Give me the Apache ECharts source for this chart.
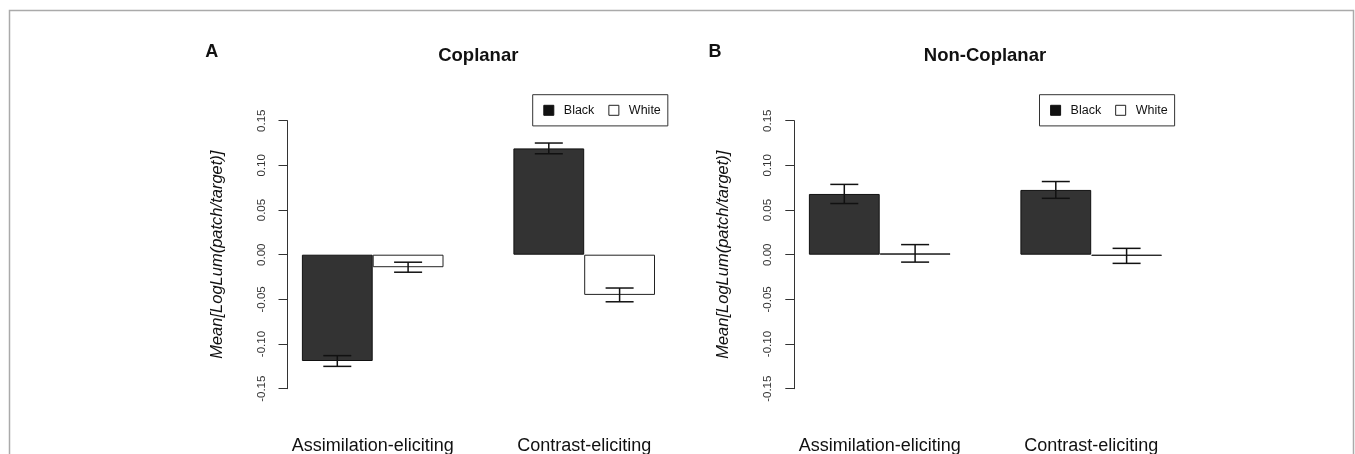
<!DOCTYPE html>
<html>
<head>
<meta charset="utf-8">
<script src="https://cdn.jsdelivr.net/npm/echarts@6/dist/echarts.min.js"></script>
<style>
html,body{margin:0;padding:0;background:#fff;}
#chart{width:1355px;height:454px;}
</style>
</head>
<body>
<div id="chart"></div>
<script>
// ---- data ----
const categories = ['Assimilation-eliciting', 'Contrast-eliciting'];
const seriesNames = ['Black', 'White'];
const panelTitles = ['Coplanar', 'Non-Coplanar'];
const panelLetters = ['A', 'B'];
const yAxisTitle = 'Mean[LogLum(patch/target)]';
const yTicks = [-0.15, -0.10, -0.05, 0.00, 0.05, 0.10, 0.15];

const coplanarBlack = [-0.119, 0.119];
const coplanarBlackErr = [0.006, 0.006];
const coplanarWhite = [-0.014, -0.045];
const coplanarWhiteErr = [0.0056, 0.0077];

const nonCoplanarBlack = [0.068, 0.0725];
const nonCoplanarBlackErr = [0.0107, 0.0094];
const nonCoplanarWhite = [0.0015, -0.0013];
const nonCoplanarWhiteErr = [0.0098, 0.0084];

// ---- layout ----
const BAR_W = 70.8;
const CAP_HALF = 14;
const panels = [
  {gridLeft: 266.95, axisOffset: -20.55, title: 478.3, letter: 211.7, legendLeft: 532.7,
   black: coplanarBlack, blackErr: coplanarBlackErr, white: coplanarWhite, whiteErr: coplanarWhiteErr},
  {gridLeft: 773.95, axisOffset: -20.35, title: 985, letter: 715, legendLeft: 1039.5,
   black: nonCoplanarBlack, blackErr: nonCoplanarBlackErr, white: nonCoplanarWhite, whiteErr: nonCoplanarWhiteErr}
];
const GRID_W = 423;
const GRID_TOP = 120.7;
const GRID_H = 268;
const FONT = 'Liberation Sans, Arial, sans-serif';

const blackStyle = {color: '#333333', borderColor: '#111111', borderWidth: 1};
const whiteStyle = {color: '#ffffff', borderColor: '#222222', borderWidth: 1};

function errorSeries(values, errs, dx, axisIdx, name) {
  return {
    type: 'custom',
    name: name + ' error',
    xAxisIndex: axisIdx, yAxisIndex: axisIdx,
    silent: true, z: 5,
    data: values.map((v, i) => [i, v, errs[i]]),
    renderItem: function (params, api) {
      const i = api.value(0), m = api.value(1), e = api.value(2);
      const top = api.coord([i, m + e]);
      const bot = api.coord([i, m - e]);
      const x = top[0] + dx;
      const st = {stroke: '#111', lineWidth: 1.5};
      return {
        type: 'group',
        children: [
          {type: 'line', shape: {x1: x, y1: top[1], x2: x, y2: bot[1]}, style: st},
          {type: 'line', shape: {x1: x - CAP_HALF, y1: top[1], x2: x + CAP_HALF, y2: top[1]}, style: st},
          {type: 'line', shape: {x1: x - CAP_HALF, y1: bot[1], x2: x + CAP_HALF, y2: bot[1]}, style: st}
        ]
      };
    }
  };
}

const grids = [], xAxes = [], yAxes = [], series = [], titles = [], legends = [];
panels.forEach((p, k) => {
  grids.push({left: p.gridLeft, top: GRID_TOP, width: GRID_W, height: GRID_H,
              containLabel: false, outerBoundsMode: 'none'});
  xAxes.push({
    type: 'category', gridIndex: k, data: categories, position: 'bottom',
    axisLine: {show: false, onZero: false}, axisTick: {show: false},
    axisLabel: {interval: 0, fontSize: 18, color: '#111', fontFamily: FONT,
                margin: 57.5, verticalAlign: 'middle', hideOverlap: false},
    splitLine: {show: false}
  });
  yAxes.push({
    type: 'value', gridIndex: k, min: yTicks[0], max: yTicks[yTicks.length - 1], interval: 0.05,
    offset: p.axisOffset,
    name: yAxisTitle, nameLocation: 'middle', nameRotate: 90, nameGap: 62,
    nameTextStyle: {fontStyle: 'italic', fontSize: 16.5, color: '#111', fontFamily: FONT},
    axisLine: {show: true, lineStyle: {color: '#333', width: 1}},
    axisTick: {show: true, length: 9, lineStyle: {color: '#333', width: 1}},
    axisLabel: {rotate: 90, fontSize: 11.5, color: '#333', margin: 20, fontFamily: FONT,
                formatter: v => (Math.abs(v) < 1e-9 ? 0 : v).toFixed(2)},
    splitLine: {show: false}
  });
  series.push({
    type: 'bar', name: seriesNames[0], xAxisIndex: k, yAxisIndex: k,
    data: p.black, barWidth: BAR_W, barGap: '0%', itemStyle: blackStyle, silent: true
  });
  series.push({
    type: 'bar', name: seriesNames[1], xAxisIndex: k, yAxisIndex: k,
    data: p.white, barWidth: BAR_W, barGap: '0%', itemStyle: whiteStyle, silent: true
  });
  series.push(errorSeries(p.black, p.blackErr, -BAR_W / 2, k, seriesNames[0]));
  series.push(errorSeries(p.white, p.whiteErr, BAR_W / 2, k, seriesNames[1]));
  titles.push({text: panelTitles[k], left: p.title, top: 46, textAlign: 'center', padding: 0,
               textStyle: {fontSize: 18.5, fontWeight: 'bold', color: '#111', fontFamily: FONT}});
  titles.push({text: panelLetters[k], left: p.letter, top: 43, textAlign: 'center', padding: 0,
               textStyle: {fontSize: 18, fontWeight: 'bold', color: '#111', fontFamily: FONT}});
  legends.push({
    left: p.legendLeft, top: 94.7, orient: 'horizontal',
    padding: [8.6, 7, 8.6, 10.6], itemGap: 14, itemWidth: 10, itemHeight: 10,
    borderColor: '#333', borderWidth: 1, borderRadius: 0, backgroundColor: '#fff',
    selectedMode: false,
    textStyle: {fontSize: 12.5, color: '#111', lineHeight: 14, padding: [0, 0, 0, 5], fontFamily: FONT},
    data: [
      {name: seriesNames[0], icon: 'rect', itemStyle: {color: '#111', borderColor: '#111', borderWidth: 1}},
      {name: seriesNames[1], icon: 'rect', itemStyle: {color: '#fff', borderColor: '#222', borderWidth: 1}}
    ]
  });
});

const chart = echarts.init(document.getElementById('chart'), null, {renderer: 'canvas'});
chart.setOption({
  backgroundColor: '#fff',
  animation: false,
  title: titles,
  legend: legends,
  grid: grids,
  xAxis: xAxes,
  yAxis: yAxes,
  series: series,
  graphic: [{
    type: 'rect', silent: true, z: -1,
    shape: {x: 9.5, y: 10.5, width: 1344, height: 500},
    style: {fill: 'none', stroke: '#aaaaaa', lineWidth: 1.5}
  }]
});
</script>
</body>
</html>
